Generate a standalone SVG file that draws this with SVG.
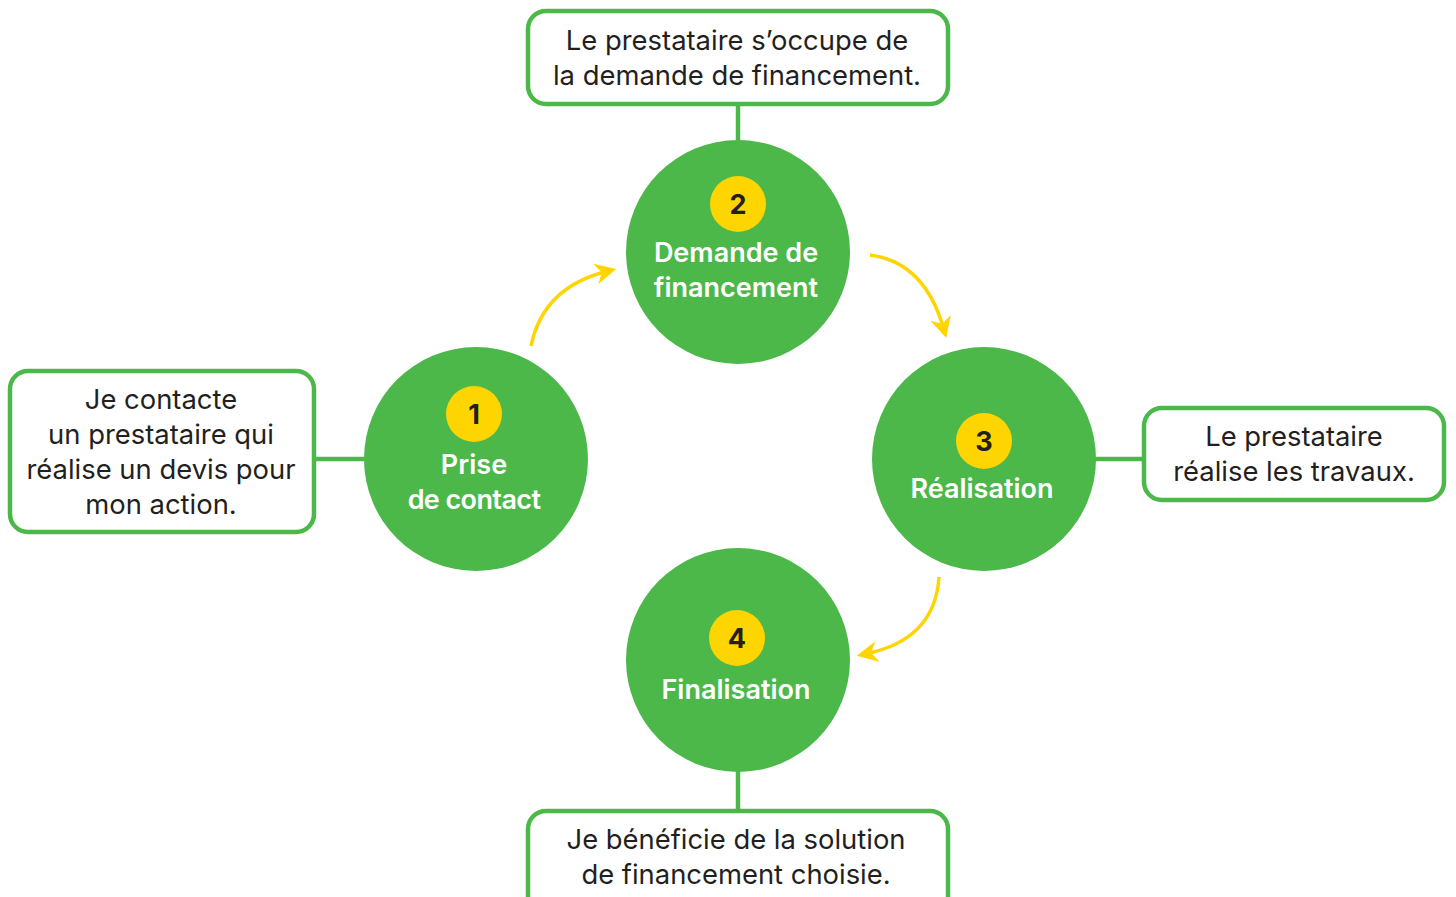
<svg xmlns="http://www.w3.org/2000/svg" width="1456" height="897" viewBox="0 0 1456 897">
<defs>
<style>
.box{fill:#fff;stroke:#4cb84a;stroke-width:4.5}
.circ{fill:#4cb84a}
.badge{fill:#ffd500}
.link{stroke:#4cb84a;stroke-width:4.5;fill:none}
.flow{stroke:#ffd500;stroke-width:3.5;fill:none;marker-end:url(#ah)}
.t{font-family:Inter,"Liberation Sans",sans-serif;font-size:27.4px;fill:#231f20;text-anchor:middle}
.lbl{font-family:Inter,"Liberation Sans",sans-serif;font-size:27px;font-weight:600;fill:#fff;text-anchor:middle}
.num{font-family:Inter,"Liberation Sans",sans-serif;font-size:27px;font-weight:700;fill:#231f20;text-anchor:middle}
</style>
<marker id="ah" viewBox="0 0 10 10" refX="6" refY="5" markerWidth="6" markerHeight="6" orient="auto" markerUnits="strokeWidth">
<path d="M0,0 L10,5 L0,10 L3,5 Z" fill="#ffd500"/>
</marker>
</defs>
<g id="connectors">
<line class="link" x1="738" y1="104" x2="738" y2="142"/>
<line class="link" x1="314" y1="459" x2="366" y2="459"/>
<line class="link" x1="1094" y1="459" x2="1144" y2="459"/>
<line class="link" x1="738" y1="770" x2="738" y2="811"/>
<path class="flow" d="M531,346 Q543,287 608,271"/>
<path class="flow" d="M870,255 Q925,262 944,330"/>
<path class="flow" d="M939,577 Q935,640 865,654"/>
</g>
<g id="box-top">
<rect class="box" x="528" y="11" width="420" height="93" rx="18"/>
<text class="t" x="737" y="50">Le prestataire s’occupe de</text>
<text class="t" x="737" y="85">la demande de financement.</text>
</g>
<g id="box-left">
<rect class="box" x="10" y="371" width="304" height="161" rx="18"/>
<text class="t" x="161" y="409">Je contacte</text>
<text class="t" x="161" y="444">un prestataire qui</text>
<text class="t" x="161" y="479">réalise un devis pour</text>
<text class="t" x="161" y="514">mon action.</text>
</g>
<g id="box-right">
<rect class="box" x="1144" y="408" width="300" height="92" rx="18"/>
<text class="t" x="1294" y="446">Le prestataire</text>
<text class="t" x="1294" y="481">réalise les travaux.</text>
</g>
<g id="box-bottom">
<rect class="box" x="528" y="811" width="420" height="110" rx="18"/>
<text class="t" x="736" y="849">Je bénéficie de la solution</text>
<text class="t" x="736" y="884">de financement choisie.</text>
</g>
<g id="step-1">
<circle class="circ" cx="476" cy="459" r="112"/>
<circle class="badge" cx="474" cy="414" r="28"/>
<text class="num" x="474" y="424">1</text>
<text class="lbl" x="474" y="474">Prise</text>
<text class="lbl" x="474" y="509" letter-spacing="-0.6">de contact</text>
</g>
<g id="step-2">
<circle class="circ" cx="738" cy="252" r="112"/>
<circle class="badge" cx="738" cy="204" r="28"/>
<text class="num" x="738" y="214">2</text>
<text class="lbl" x="736" y="262">Demande de</text>
<text class="lbl" x="736" y="297">financement</text>
</g>
<g id="step-3">
<circle class="circ" cx="984" cy="459" r="112"/>
<circle class="badge" cx="984" cy="441" r="28"/>
<text class="num" x="984" y="451">3</text>
<text class="lbl" x="982" y="498">Réalisation</text>
</g>
<g id="step-4">
<circle class="circ" cx="738" cy="660" r="112"/>
<circle class="badge" cx="737" cy="638" r="28"/>
<text class="num" x="737" y="648">4</text>
<text class="lbl" x="736" y="699">Finalisation</text>
</g>
</svg>
